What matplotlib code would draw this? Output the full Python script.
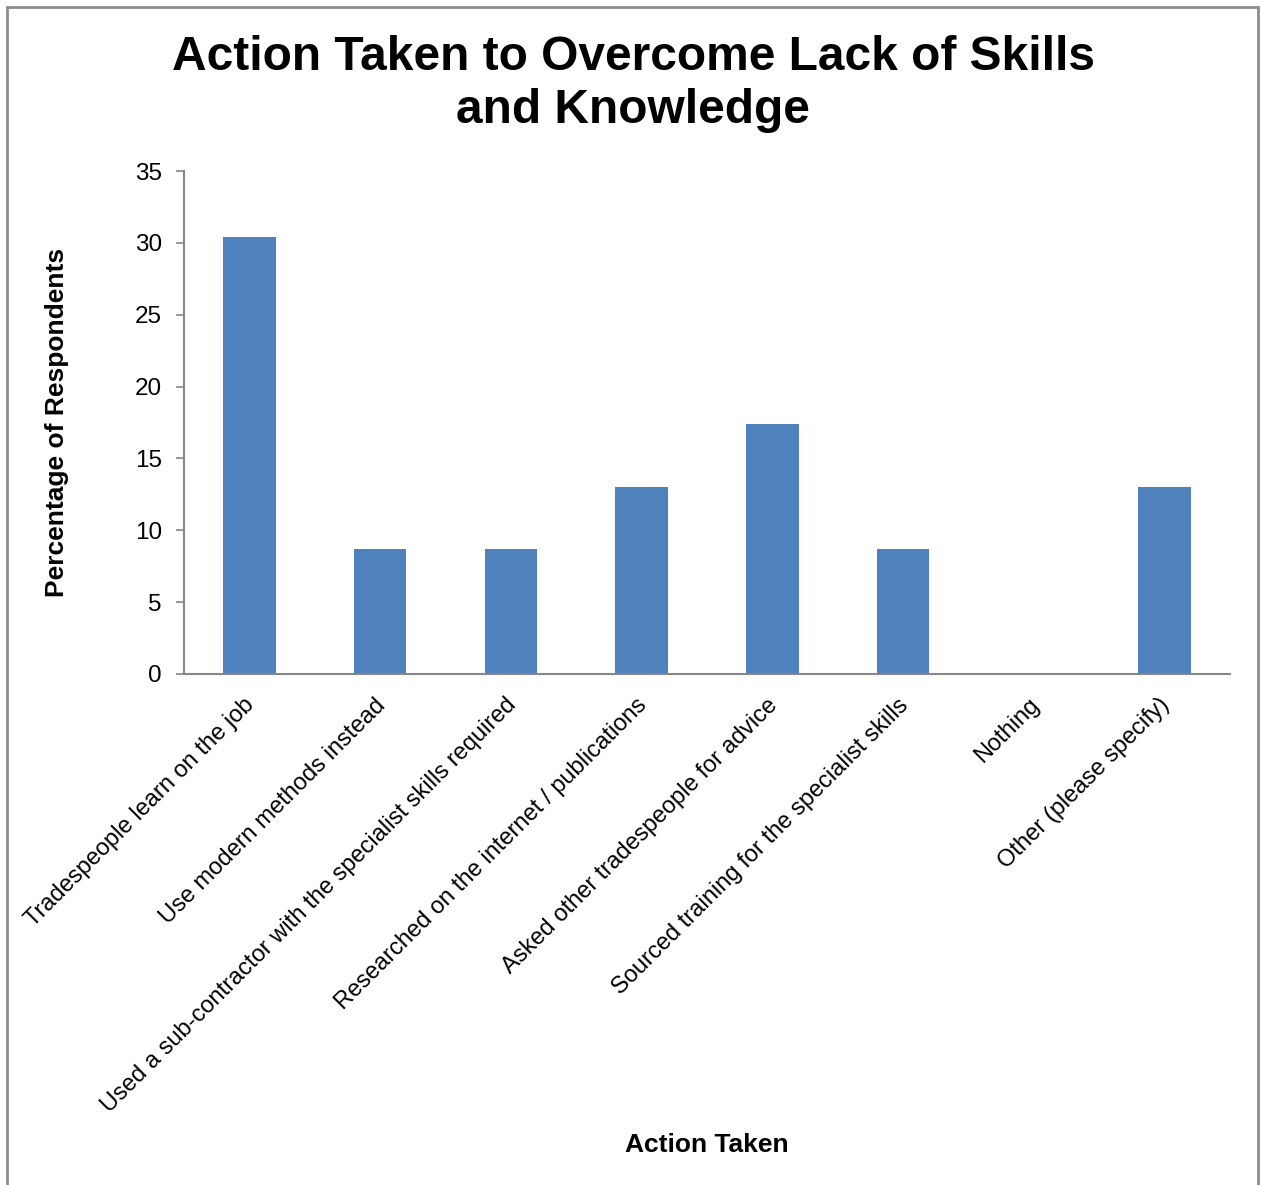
import matplotlib.pyplot as plt
import matplotlib.transforms as mtransforms
from matplotlib.patches import Rectangle

plt.rcParams['font.family'] = ['Liberation Sans', 'DejaVu Sans']

# Données
actions = [
    "Tradespeople learn on the job",
    "Use modern methods instead",
    "Used a sub-contractor with the specialist skills required",
    "Researched on the internet / publications",
    "Asked other tradespeople for advice",
    "Sourced training for the specialist skills",
    "Nothing",
    "Other (please specify)",
]
percentages = [30.43, 8.70, 8.70, 13.04, 17.39, 8.70, 0.0, 13.04]
y_ticks = [0, 5, 10, 15, 20, 25, 30, 35]

W, H = 1261, 1185
fig = plt.figure(figsize=(W / 100, H / 100), dpi=100)

# cadre gris autour du graphique
fig.patches.append(Rectangle((7 / W, -0.01), (1258 - 7) / W, (H - 7) / H + 0.01,
                             transform=fig.transFigure, fill=False,
                             edgecolor='#8c8c8c', linewidth=2))

ax = fig.add_axes([184 / W, 1 - 674 / H, (1230 - 184) / W, (674 - 171) / H])
x = range(len(actions))
ax.bar(x, percentages, width=0.4, color='#4f81bd')

ax.set_xlim(-0.5, len(actions) - 0.5)
ax.set_ylim(0, 35)
ax.set_yticks(y_ticks)
ax.tick_params(axis='y', labelsize=17.5, length=6, color='#868686', width=1.2, pad=10)
ax.tick_params(axis='x', length=0, pad=13)
ax.set_xticks(list(x))
ax.set_xticklabels(actions, rotation=45, ha='right', rotation_mode='anchor', fontsize=17)

# petit décalage des étiquettes vers la gauche
offset = mtransforms.ScaledTranslation(-6 / 100, -2 / 100, fig.dpi_scale_trans)
for lbl in ax.get_xticklabels():
    lbl.set_transform(lbl.get_transform() + offset)

for side in ['top', 'right']:
    ax.spines[side].set_visible(False)
for side in ['left', 'bottom']:
    ax.spines[side].set_color('#868686')
    ax.spines[side].set_linewidth(1.5)

fig.text(633 / W, 1 - 84 / H, "Action Taken to Overcome Lack of Skills\nand Knowledge",
         ha='center', va='center', fontsize=34.5, fontweight='bold', linespacing=1.22)
fig.text(57 / W, 1 - 422 / H, "Percentage of Respondents", rotation=90,
         ha='center', va='center', fontsize=19, fontweight='bold')
fig.text(707 / W, 1 - 1145 / H, "Action Taken", ha='center', va='center',
         fontsize=19, fontweight='bold')

plt.savefig("out.png", dpi=100)
